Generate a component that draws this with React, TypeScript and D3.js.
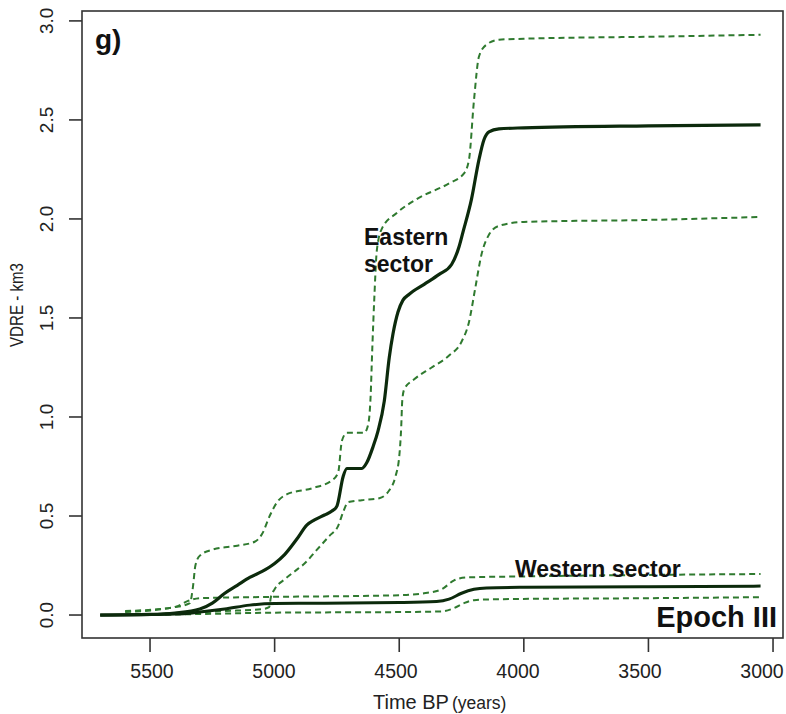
import React from "react";
import * as d3 from "d3";

// Time BP (years) and VDRE (km3)
const easternMeanT = [5700, 5500, 5400, 5300, 5250, 5200, 5150, 5100, 5050, 5000, 4960, 4910, 4870, 4840, 4800, 4770, 4750, 4725, 4710, 4680, 4650, 4630, 4605, 4585, 4560, 4540, 4525, 4505, 4485, 4460, 4400, 4340, 4290, 4260, 4245, 4210, 4180, 4160, 4140, 4100, 4000, 3500, 3050];
const easternMeanV = [0, 0.003, 0.01, 0.03, 0.06, 0.11, 0.15, 0.19, 0.22, 0.26, 0.305, 0.385, 0.455, 0.48, 0.505, 0.525, 0.55, 0.7, 0.74, 0.74, 0.74, 0.77, 0.85, 0.93, 1.08, 1.3, 1.42, 1.53, 1.59, 1.62, 1.67, 1.72, 1.77, 1.86, 1.93, 2.1, 2.3, 2.4, 2.44, 2.455, 2.46, 2.47, 2.475];

const easternUpperT = [5600, 5400, 5340, 5328, 5318, 5300, 5250, 5150, 5080, 5050, 5020, 4990, 4950, 4850, 4770, 4745, 4730, 4710, 4640, 4625, 4615, 4608, 4600, 4590, 4570, 4510, 4430, 4300, 4240, 4220, 4200, 4180, 4150, 4100, 4000, 3500, 3050];
const easternUpperV = [0.02, 0.04, 0.06, 0.14, 0.25, 0.3, 0.33, 0.35, 0.37, 0.41, 0.5, 0.57, 0.61, 0.64, 0.68, 0.72, 0.88, 0.92, 0.92, 0.96, 1.1, 1.35, 1.6, 1.84, 1.95, 2.03, 2.1, 2.18, 2.23, 2.3, 2.6, 2.82, 2.88, 2.905, 2.91, 2.92, 2.93];

const easternLowerT = [5600, 5400, 5200, 5050, 5022, 5015, 5000, 4960, 4920, 4880, 4830, 4780, 4745, 4725, 4705, 4650, 4580, 4540, 4515, 4500, 4492, 4488, 4480, 4440, 4370, 4300, 4250, 4220, 4195, 4170, 4140, 4100, 4000, 3500, 3050];
const easternLowerV = [0.002, 0.008, 0.02, 0.03, 0.04, 0.09, 0.13, 0.18, 0.22, 0.26, 0.33, 0.4, 0.45, 0.52, 0.57, 0.58, 0.59, 0.63, 0.7, 0.8, 0.95, 1.08, 1.14, 1.19, 1.25, 1.31, 1.38, 1.48, 1.65, 1.82, 1.92, 1.965, 1.985, 1.995, 2.01];

const westernMeanT = [5700, 5400, 5300, 5200, 5100, 5000, 4800, 4500, 4350, 4300, 4250, 4200, 4150, 4000, 3500, 3050];
const westernMeanV = [0, 0.005, 0.015, 0.03, 0.05, 0.058, 0.06, 0.063, 0.068, 0.08, 0.11, 0.13, 0.137, 0.14, 0.143, 0.146];

const westernUpperT = [5600, 5400, 5350, 5300, 5100, 4500, 4400, 4330, 4280, 4230, 4000, 3050];
const westernUpperV = [0.015, 0.04, 0.07, 0.085, 0.09, 0.1, 0.11, 0.13, 0.175, 0.19, 0.195, 0.207];

const westernLowerT = [5600, 5300, 5000, 4500, 4330, 4280, 4240, 4200, 4100, 3500, 3050];
const westernLowerV = [0, 0.005, 0.012, 0.015, 0.018, 0.035, 0.06, 0.075, 0.08, 0.085, 0.09];

const xTicks = [5500, 5000, 4500, 4000, 3500, 3000];
const yTicks = [0, 0.5, 1, 1.5, 2, 2.5, 3];

const W = 786;
const H = 714;
const box = { left: 82, right: 783, top: 11, bottom: 638 };

const x = d3.scaleLinear().domain([5773, 2960]).range([box.left, box.right]);
const y = d3.scaleLinear().domain([-0.116, 3.05]).range([box.bottom, box.top]);
// tick labels sit slightly inward of their ticks in the reference
const xLabel = d3.scaleLinear().domain([5500, 3000]).range([152, 762]);

const line = d3
  .line<[number, number]>()
  .x((d) => x(d[0]))
  .y((d) => y(d[1]))
  .curve(d3.curveMonotoneX);

const pts = (t: number[], v: number[]) => t.map((d, i) => [d, v[i]] as [number, number]);

const SOLID = "#0c2a0c";
const DASH = "#2f7a2f";
const AXIS = "#333";
const FONT = "'Liberation Sans', Arial, Helvetica, sans-serif";

export default function App() {
  const dashed = [
    pts(easternUpperT, easternUpperV),
    pts(easternLowerT, easternLowerV),
    pts(westernUpperT, westernUpperV),
    pts(westernLowerT, westernLowerV),
  ];
  return (
    <svg
      width={W}
      height={H}
      style={{ position: "absolute", left: 0, top: 0, background: "#fff" }}
      fontFamily={FONT}
    >
      <rect x={0} y={0} width={W} height={H} fill="#fff" />
      {dashed.map((d, i) => (
        <path
          key={i}
          d={line(d) || ""}
          fill="none"
          stroke={DASH}
          strokeWidth={2}
          strokeDasharray="6,4"
        />
      ))}
      <path d={line(pts(westernMeanT, westernMeanV)) || ""} fill="none" stroke={SOLID} strokeWidth={3} />
      <path d={line(pts(easternMeanT, easternMeanV)) || ""} fill="none" stroke={SOLID} strokeWidth={3.2} />

      <rect
        x={box.left}
        y={box.top}
        width={box.right - box.left}
        height={box.bottom - box.top}
        fill="none"
        stroke={AXIS}
        strokeWidth={1.6}
      />
      {xTicks.map((t) => (
        <g key={t}>
          <line x1={x(t)} x2={x(t)} y1={box.bottom} y2={box.bottom + 14} stroke={AXIS} strokeWidth={1.6} />
          <text x={xLabel(t)} y={678} textAnchor="middle" fontSize={19.5} fill="#222">
            {t}
          </text>
        </g>
      ))}
      {yTicks.map((v) => (
        <g key={v}>
          <line x1={box.left - 13} x2={box.left} y1={y(v)} y2={y(v)} stroke={AXIS} strokeWidth={1.6} />
          <text
            transform={`translate(53,${y(v)}) rotate(-90)`}
            textAnchor="middle"
            fontSize={19}
            fill="#222"
          >
            {v.toFixed(1)}
          </text>
        </g>
      ))}
      <text transform="translate(23,305) rotate(-90)" textAnchor="middle" fontSize={19} fill="#222" textLength={84} lengthAdjust="spacingAndGlyphs">
        VDRE - km3
      </text>
      <text x={373} y={709} fontSize={20} fill="#222">
        Time BP
        <tspan fontSize={17.5} dx={3}>(years)</tspan>
      </text>

      <text x={95} y={49} fontSize={28} fontWeight="bold" fill="#111">
        g)
      </text>
      <text x={364} y={245} fontSize={23} fontWeight="bold" fill="#111">
        Eastern
      </text>
      <text x={364} y={272} fontSize={23} fontWeight="bold" fill="#111">
        sector
      </text>
      <text x={515} y={577} fontSize={23} fontWeight="bold" fill="#111">
        Western sector
      </text>
      <text x={777} y={627} textAnchor="end" fontSize={29} fontWeight="bold" fill="#111">
        Epoch III
      </text>
    </svg>
  );
}
